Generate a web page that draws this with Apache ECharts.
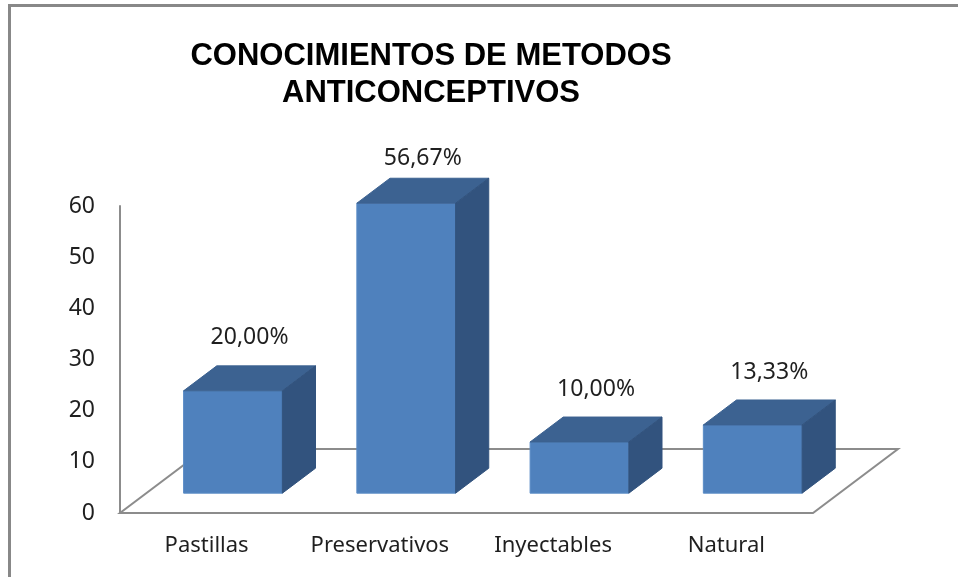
<!DOCTYPE html>
<html>
<head>
<meta charset="utf-8">
<script src="https://cdn.jsdelivr.net/npm/echarts@6/dist/echarts.min.js"></script>
<style>
  html, body { margin: 0; padding: 0; background: #fff; }
  #chart { width: 958px; height: 577px; }
</style>
</head>
<body>
<div id="chart"></div>
<script>
// datos del grafico
var categorias = ["Pastillas", "Preservativos", "Inyectables", "Natural"];
var valores = [20, 56.67, 10, 13.33];
var etiquetas = ["20,00%", "56,67%", "10,00%", "13,33%"];
var ticksY = [0, 10, 20, 30, 40, 50, 60];

// perspectiva del piso 3D (px)
var FONDO_X = 85, FONDO_Y = -64;
var FRENTE = 0.31, ATRAS = 0.70;
var ANCHO_BARRA = 0.57;

var chart = echarts.init(document.getElementById("chart"));

//piso con contorno gris
function renderPiso(params, api) {
  var c = params.coordSys;
  var y = c.y + c.height;
  return {
    type: "polygon",
    shape: {
      points: [
        [c.x, y], [c.x + c.width, y],
        [c.x + c.width + FONDO_X, y + FONDO_Y],
        [c.x + FONDO_X, y + FONDO_Y]
      ]
    },
    style: { fill: "none", stroke: "#8c8c8c", lineWidth: 2 }
  };
}

//barra 3D: frente, tapa y lado
function renderBarra(params, api) {
  var idx = api.value(0);
  var val = api.value(1);
  var base = api.coord([idx, 0]);
  var tope = api.coord([idx, val]);
  var banda = api.size([1, 0])[0];
  var w = banda * ANCHO_BARRA;
  var x0 = base[0] - w / 2 + FONDO_X * FRENTE;
  var yb = base[1] + FONDO_Y * FRENTE;
  var yt = tope[1] + FONDO_Y * FRENTE;
  var dx = FONDO_X * (ATRAS - FRENTE);
  var dy = FONDO_Y * (ATRAS - FRENTE);
  //la etiqueta no sube mas alla del borde del area
  var yLabel = Math.max(yt + dy - 28, params.coordSys.y - 48);
  return {
    type: "group",
    children: [
      {
        type: "polygon",
        shape: { points: [[x0, yb], [x0 + w, yb], [x0 + w, yt], [x0, yt]] },
        style: { fill: "#4f81bd", stroke: "#5a8cc6", lineWidth: 1 }
      },
      {
        type: "polygon",
        shape: { points: [[x0, yt], [x0 + w, yt], [x0 + w + dx, yt + dy], [x0 + dx, yt + dy]] },
        style: { fill: "#3c6291", stroke: "#3c6291", lineWidth: 1 }
      },
      {
        type: "polygon",
        shape: { points: [[x0 + w, yb], [x0 + w + dx, yb + dy], [x0 + w + dx, yt + dy], [x0 + w, yt]] },
        style: { fill: "#32537e", stroke: "#32537e", lineWidth: 1 }
      },
      {
        type: "text",
        style: {
          x: x0 + w / 2 + dx / 2,
          y: yLabel,
          text: etiquetas[idx],
          fill: "#1f1f1f",
          font: "23px 'Noto Sans'",
          align: "center",
          verticalAlign: "middle"
        }
      }
    ]
  };
}

let option = {
  animation: false,
  backgroundColor: "#fff",
  title: {
    text: "CONOCIMIENTOS DE METODOS\nANTICONCEPTIVOS",
    left: 426,
    top: 33,
    textAlign: "center",
    textStyle: {
      fontFamily: "Liberation Sans",
      fontWeight: "bold",
      fontSize: 31,
      lineHeight: 37,
      color: "#000"
    }
  },
  graphic: [
    {
      type: "rect",
      shape: { x: 9.5, y: 5.5, width: 980, height: 620 },
      style: { fill: "none", stroke: "#888", lineWidth: 3 }
    }
  ],
  grid: { left: 120, right: 145, top: 206, bottom: 64 },
  xAxis: {
    type: "category",
    data: categorias,
    axisLine: { show: false },
    axisTick: { show: false },
    axisLabel: {
      interval: 0,
      margin: 22,
      fontSize: 22,
      fontFamily: "Noto Sans",
      color: "#1f1f1f"
    }
  },
  yAxis: {
    type: "value",
    min: ticksY[0],
    max: ticksY[ticksY.length - 1],
    interval: ticksY[1] - ticksY[0],
    axisLine: { show: true, lineStyle: { color: "#8c8c8c", width: 2 } },
    axisTick: { show: false },
    splitLine: { show: false },
    axisLabel: {
      margin: 25,
      fontSize: 23,
      fontFamily: "Noto Sans",
      color: "#1f1f1f"
    }
  },
  series: [
    {
      type: "custom",
      renderItem: renderPiso,
      data: [0],
      z: 1,
      silent: true
    },
    {
      type: "custom",
      renderItem: renderBarra,
      encode: { x: 0, y: 1 },
      data: valores.map(function(v, i) { return [i, v]; }),
      z: 2
    }
  ]
};

chart.setOption(option);
</script>
</body>
</html>
